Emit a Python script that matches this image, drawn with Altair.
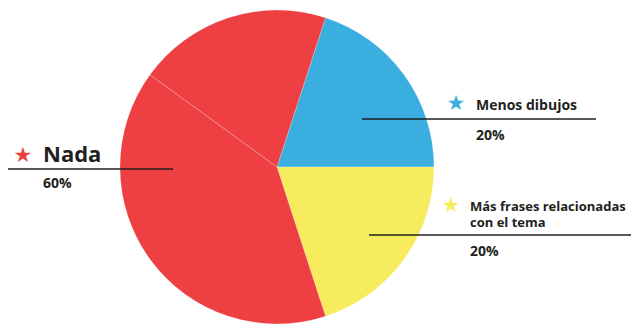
import math
import altair as alt
import pandas as pd

# ---- data ----
slice_ids = ["Menos dibujos", "Más frases relacionadas con el tema", "Nada (a)", "Nada (b)"]
slice_values = [20, 20, 40, 20]
slice_colors = ["#3AAEDF", "#F7EC5E", "#EE3F42", "#EE3F42"]

label_names = ["Menos dibujos", "Más frases relacionadas", "Nada"]
label_pcts = ["20%", "20%", "60%"]
star_colors = ["#3AAEDF", "#F7EC5E", "#EE3F42"]

# ---- layout (pixels) ----
CX, CY, R = 269, 159, 157
OFFSET = math.radians(18)
TEXT = "#231F20"
FONT = "Open Sans"
star_pos = [(448, 96), (443, 198), (15, 148)]

pie_df = pd.DataFrame({"slice": slice_ids, "value": slice_values, "order": list(range(len(slice_ids)))})

pie = alt.Chart(pie_df).mark_arc(outerRadius=R, stroke="#ffffff", strokeWidth=0.6, strokeOpacity=0.35).encode(
    x=alt.value(CX),
    y=alt.value(CY),
    theta=alt.Theta("value:Q", stack=True, scale=alt.Scale(range=[OFFSET, OFFSET + 2 * math.pi])),
    order=alt.Order("order:Q"),
    color=alt.Color("slice:N", scale=alt.Scale(domain=slice_ids, range=slice_colors), legend=None),
)

rules_df = pd.DataFrame({"x": [0, 354, 361], "x2": [165, 588, 623], "y": [161, 111, 227]})
rules = alt.Chart(rules_df).mark_rule(color=TEXT, strokeWidth=1.6).encode(
    x=alt.X("x:Q", scale=None), x2="x2:Q", y=alt.Y("y:Q", scale=None)
)

names_df = pd.DataFrame({
    "t": [label_names[0], label_names[1], "con el tema", label_names[2]],
    "x": [468, 462, 462, 35],
    "y": [102, 203, 219, 154],
    "s": [14, 13, 13, 22],
})
names = alt.Chart(names_df).mark_text(align="left", baseline="alphabetic", font=FONT, fontWeight="bold", color=TEXT).encode(
    x=alt.X("x:Q", scale=None), y=alt.Y("y:Q", scale=None), text="t:N",
    size=alt.Size("s:Q", scale=None),
)

pct_df = pd.DataFrame({"t": label_pcts, "x": [468, 462, 35], "y": [132, 248, 180]})
pcts = alt.Chart(pct_df).mark_text(align="left", baseline="alphabetic", font=FONT, fontWeight="bold", fontSize=14, color=TEXT).encode(
    x=alt.X("x:Q", scale=None), y=alt.Y("y:Q", scale=None), text="t:N"
)

star_layers = []
for name, col, (sx, sy) in zip(label_names, star_colors, star_pos):
    sdf = pd.DataFrame({"name": [name], "g": ["\u2605"], "x": [sx], "y": [sy]})
    star_layers.append(
        alt.Chart(sdf).mark_text(font="DejaVu Sans", fontSize=21, align="center", baseline="middle", color=col).encode(
            x=alt.X("x:Q", scale=None), y=alt.Y("y:Q", scale=None), text="g:N"
        )
    )

chart = alt.layer(pie, rules, names, pcts, *star_layers).properties(
    width=623, height=316, padding=0, autosize=alt.AutoSizeParams(type="none")
).configure_view(stroke=None)

chart.save("out.html", embed_options={"renderer": "svg", "actions": False})
